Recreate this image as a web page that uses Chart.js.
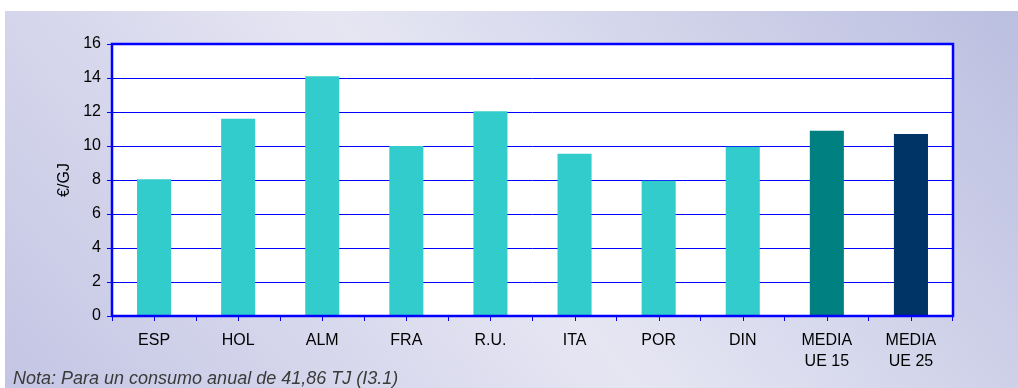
<!DOCTYPE html>
<html>
<head>
<meta charset="utf-8">
<script src="https://cdn.jsdelivr.net/npm/chart.js@4.4.1/dist/chart.umd.min.js"></script>
<style>
    html, body { margin: 0; padding: 0; background: #fff; }
    #wrap { position: relative; width: 1018px; height: 388px; overflow: hidden; }
    #panel {
        position: absolute; left: 5px; top: 11px; right: 0; bottom: 0;
        background: linear-gradient(51deg, #c4c5e4 0%, #e6e6f3 48%, #bbbfe0 100%);
    }
    #chart { position: absolute; left: 0; top: 0; }
    #nota {
        position: absolute; left: 13px; top: 368px;
        font: italic 18px "Liberation Sans", Arial, sans-serif; color: #3a3a3a;
        white-space: nowrap;
    }
</style>
</head>
<body>
<div id="wrap">
    <div id="panel"></div>
    <canvas id="chart" width="1018" height="388"></canvas>
    <div id="nota">Nota: Para un consumo anual de 41,86 TJ (I3.1)</div>
</div>
<script>
// Precio del gas natural por país (€/GJ)
const paises = ['ESP', 'HOL', 'ALM', 'FRA', 'R.U.', 'ITA', 'POR', 'DIN', ['MEDIA', 'UE 15'], ['MEDIA', 'UE 25']];
const precios = [8.05, 11.6, 14.1, 10.0, 12.05, 9.55, 7.95, 9.95, 10.9, 10.7];
const colores = ['#33cccc', '#33cccc', '#33cccc', '#33cccc', '#33cccc', '#33cccc', '#33cccc', '#33cccc', '#008080', '#003366'];
const ticksY = [0, 2, 4, 6, 8, 10, 12, 14, 16];

const azul = '#0000ff';
const fuente = { family: '"Liberation Sans", Arial, sans-serif', size: 16 };

// fondo blanco y marco azul del área de trazado
const marcoPlugin = {
    id: 'marco',
    beforeDraw(chart) {
        const { ctx, chartArea: a } = chart;
        ctx.save();
        ctx.fillStyle = '#ffffff';
        ctx.fillRect(a.left, a.top, a.right - a.left, a.bottom - a.top);
        ctx.restore();
    },
    afterDraw(chart) {
        const { ctx, chartArea: a } = chart;
        const x = chart.scales.x;
        ctx.save();
        // marcas pequeñas en el centro de cada categoría
        ctx.strokeStyle = azul;
        ctx.lineWidth = 1;
        paises.forEach((p, i) => {
            const px = Math.round(x.getPixelForValue(i)) + 0.5;
            ctx.beginPath();
            ctx.moveTo(px, a.bottom);
            ctx.lineTo(px, a.bottom + 5);
            ctx.stroke();
        });
        ctx.lineWidth = 2.5;
        ctx.strokeRect(a.left, a.top, a.right - a.left, a.bottom - a.top);
        ctx.restore();
    }
};

new Chart(document.getElementById('chart').getContext('2d'), {
    type: 'bar',
    data: {
        labels: paises,
        datasets: [{
            data: precios,
            backgroundColor: colores,
            borderWidth: 0,
            categoryPercentage: 1.0,
            barPercentage: 0.405
        }]
    },
    options: {
        responsive: false,
        animation: false,
        layout: { padding: { left: 55, top: 44, right: 65, bottom: 0 } },
        plugins: { legend: { display: false }, tooltip: { enabled: false } },
        scales: {
            x: {
                grid: { offset: true, drawOnChartArea: false, drawTicks: true, tickLength: 5, color: azul },
                border: { display: false },
                ticks: { color: '#000', font: { ...fuente, lineHeight: 1.3 }, padding: 9, maxRotation: 0, autoSkip: false },
                afterFit(scale) { scale.height = 72; }
            },
            y: {
                min: 0,
                max: 16,
                afterBuildTicks(scale) { scale.ticks = ticksY.map(v => ({ value: v })); },
                grid: { color: azul, lineWidth: 1, tickLength: 5, tickColor: azul },
                border: { display: false },
                ticks: { color: '#000', font: fuente, padding: 6 },
                title: { display: true, text: '€/GJ', color: '#000', font: fuente, padding: 0 },
                afterFit(scale) { scale.width = 57; }
            }
        }
    },
    plugins: [marcoPlugin]
});
</script>
</body>
</html>
